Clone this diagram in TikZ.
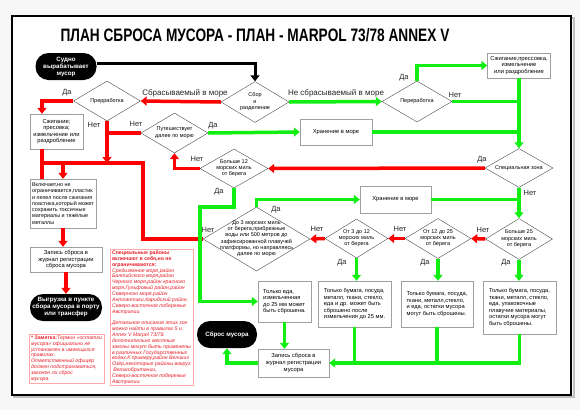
\documentclass[tikz,border=0pt]{standalone}
\usepackage{fontspec}
\setmainfont{Liberation Sans}
\usetikzlibrary{shapes.geometric, arrows.meta, positioning}

\definecolor{redline}{HTML}{FF0000}
\definecolor{greenline}{HTML}{11EE11}
\definecolor{notered}{HTML}{E8202A}

% text of a diamond, kept out of the shape size
\newcommand{\dtext}[1]{\smash{\makebox[0pt]{\raisebox{-0.2em}{\begin{tabular}{@{}c@{}}#1\end{tabular}}}}}

\begin{document}
\begin{tikzpicture}[x=1pt, y=-1pt,
    box/.style={rectangle, draw=gray!75, fill=white, inner sep=1pt, align=center,
                font=\fontsize{5.8}{6.6}\selectfont},
    dia/.style={diamond, draw=gray!60!black, fill=white, inner sep=0pt,
                font=\fontsize{5.5}{6.3}\selectfont},
    pill/.style={rectangle, rounded corners=13pt, fill=black, text=white, align=center,
                inner sep=1pt, font=\fontsize{6.2}{7}\selectfont\bfseries},
    note/.style={rectangle, draw=red!35, fill=white, inner xsep=2pt, inner ysep=1pt,
                align=left, text=notered, font=\fontsize{5.2}{5.85}\selectfont\itshape},
    lbl/.style={inner sep=0pt, text=black!85, font=\fontsize{7.5}{8}\selectfont},
    bkarr/.style={draw=black, line width=3pt, -{Triangle[length=6pt, width=9pt]}},
    rarr/.style={draw=redline, line width=3.5pt, -{Triangle[length=6pt, width=9pt]}},
    rln/.style={draw=redline, line width=3.5pt},
    garr/.style={draw=greenline, line width=3.5pt, -{Triangle[length=6pt, width=9pt]}},
    gln/.style={draw=greenline, line width=3.5pt}
]
    \useasboundingbox (0,0) rectangle (580,410);
    \fill[gray!6] (0,0) rectangle (580,410);
    \draw[gray!50, line width=2pt] (14,18) rectangle (573.5,397);
    \draw[line width=2pt, fill=white] (11.5,15.5) rectangle (571,394.5);

    \node[anchor=base] (title) at (255,41)
        {\scalebox{0.76}[1]{\fontsize{18}{18}\selectfont\bfseries ПЛАН СБРОСА МУСОРА - ПЛАН - MARPOL 73/78 ANNEX V}};

    % top
    \node[pill, minimum width=61, minimum height=27] (ship) at (66,66.5) {Судно\\вырабатывает\\мусор};
    \node[dia, minimum width=68, minimum height=41] (sort) at (255,102) {\dtext{Сбор\\и\\разделение}};
    \node[dia, minimum width=67, minimum height=40] (procL) at (107,101) {\dtext{Прерработка}};
    \node[dia, minimum width=70, minimum height=41] (procR) at (417,101.5) {\dtext{Переработка}};
    \node[box, minimum width=53, minimum height=35] (burnL) at (56.5,131.5) {Сжигание;\\пресовка;\\измельчение или\\раздробление};
    \node[box, minimum width=63, minimum height=25] (burnR) at (519,65.5) {Сжигание,прессовка,\\измельчение\\или раздробление};
    \node[dia, minimum width=67, minimum height=40] (travel) at (174.5,133) {\dtext{Путешествует\\далее по морю}};
    \node[box, minimum width=72, minimum height=26] (storeA) at (336,132) {Хранение в море};

    % middle
    \node[dia, minimum width=68, minimum height=39] (special) at (519,168) {\dtext{Специальная зона}};
    \node[dia, minimum width=68, minimum height=39] (over12) at (234,168.5) {\dtext{Больше 12\\морских миль\\от берега}};
    \node[box, minimum width=71, minimum height=27] (storeB) at (395.5,199.5) {Хранение в море};
    \node[dia, minimum width=107, minimum height=64] (within3) at (256.5,239)
        {\dtext{До 3 морских миль\\от берега,прибрежные\\воды или  500 метров  до\\зафиксированной плавучей\\платформы, но направляясь\\далее по морю}};
    \node[dia, minimum width=63, minimum height=39] (from3) at (356.5,238.5) {\dtext{От  3 до 12\\морских миль\\от берега}};
    \node[dia, minimum width=66, minimum height=40] (from12) at (438,238.5) {\dtext{От 12 до 25\\морских миль\\от берега}};
    \node[dia, minimum width=67, minimum height=41] (over25) at (519,239) {\dtext{Больше 25\\морских миль\\от берега}};

    % bottom
    \node[box, align=left, font=\fontsize{5.7}{6.5}\selectfont, minimum width=53, minimum height=41] (onlyFood) at (284.5,301.5)
        {Только еда,\\измельченная\\до 25 мм может\\быть сброшена.};
    \node[box, align=left, font=\fontsize{5.7}{6.5}\selectfont, minimum width=73, minimum height=46] (waste312) at (354.5,304)
        {Только бумага, посуда,\\металл, ткани, стекло,\\еда и др. может быть\\сброшено после\\измельчения до 25 мм.};
    \node[box, align=left, font=\fontsize{5.7}{6.5}\selectfont, minimum width=72, minimum height=46] (waste1225) at (437,304)
        {Только бумага, посуда,\\ткани, металл,стекло,\\и еда, остатки мусора\\могут быть сброшены.};
    \node[box, align=left, font=\fontsize{5.7}{6.5}\selectfont, minimum width=73, minimum height=53] (waste25) at (519.5,307.5)
        {Только бумага, посуда,\\ткани, металл, стекло,\\еда, упаковочные\\плавучие материалы,\\остатки мусора могут\\быть сброшены.};
    \node[box, minimum width=71, minimum height=28] (logG) at (293.5,363) {Запись сброса в\\журнал регистрации\\мусора};
    \node[pill, minimum width=60, minimum height=27] (dump) at (227,334.5) {Сброс мусора};

    % left column
    \node[box, align=left, font=\fontsize{5.4}{6.3}\selectfont, minimum width=66, minimum height=49] (plastic) at (63,203.5)
        {Включает,но не\\ограничивается,пластик\\и пепел после сжигания\\поастика,который может\\сохранить токсичные\\материалы и тяжёлые\\металлы};
    \node[box, minimum width=72, minimum height=25] (logR) at (66,259.5) {Запись сброса в\\журнал регистрации\\сброса мусора};
    \node[pill, minimum width=72, minimum height=27] (port) at (66,307.5) {Выгрузка в пункте\\сбора мусора в порту\\или трансфер};
    \node[note, minimum width=75, minimum height=49] (noteA) at (66.5,358.5)
        {{\bfseries\upshape * Заметка:}Термин «остатки\\мусора» официально не\\установлен в имеющихся\\правилах.\\Ответственный офицер\\должен подстраховаться,\\законен ли сброс\\мусора.};
    \node[note, minimum width=81, minimum height=131] (noteB) at (151.5,317.5)
        {{\bfseries\upshape Специальные районы}\\{\bfseries\upshape включают в себя,но не}\\{\bfseries\upshape ограничиваются:}\\
         Средиземное море,район\\Балтийского моря,район\\Черного моря,район красного\\моря,Гульфовый район,район\\
         Северного моря,район\\Антлантики,Карибский район,\\Северо-восточное побережье\\Австралии.\\[5.85pt]
         Детальное описание этих зон\\можно найти в правилах 5 и\\Annex V Marpol 73/78.\\дополнительно  местные\\
         законы могут быть применены\\в различных Государственных\\водах.К примеру,район Великих\\
         Озёр,некоторые районы вокруг\\\ Великобритании,\\Северо-восточное побережье\\Австралии.};

    \coordinate (jL) at (42,163);
    \coordinate (jR) at (143,163);
    \coordinate (gA) at (200,207);

    % black
    \draw[bkarr] ([yshift=3pt]ship.east) -| (sort.north);

    % red
    \draw[rarr] (sort.west) -- (procL.east);
    \draw[rarr] (procL.west) -| (burnL.north -| jL);
    \draw[rln] (burnL.south -| jL) -- (plastic.north -| jL);
    \draw[rln] (within3.west) -| (jR) -- (jL);
    \draw[rarr] (jR -| plastic.north) -- (plastic.north);
    \draw[rarr] (procL.south) -- (procL.south |- jR);
    \draw[rln] (travel.west) -- (travel.west -| procL.south);
    \draw[rarr] (over12.west) -| (travel.south);
    \draw[rarr] (special.west) -- (over12.east);
    \draw[rarr] (over25.west) -- (from12.east);
    \draw[rarr] (from12.west) -- (from3.east);
    \draw[rarr] (from3.west) -- (within3.east);
    \draw[rarr] (plastic.south) -- (plastic.south |- logR.north);
    \draw[rarr] (logR.south) -- (port.north);

    % green
    \draw[garr] (sort.east) -- (procR.west);
    \draw[garr] (procR.north) |- (burnR.west);
    \draw[garr] (travel.east) -- (storeA.west);
    \draw[garr] (burnR.south) -- (special.north);
    \draw[gln] (procR.east) -- (procR.east -| special.north);
    \draw[gln] (storeA.east) -- (storeA.east -| special.north);
    \draw[garr] (special.south) -- (over25.north);
    \draw[gln] (storeB.east) -- (storeB.east -| special.north);
    \draw[garr] (within3.north) |- (storeB.west);
    \draw[garr] (over12.south) |- (gA) |- (onlyFood.west);
    \draw[garr] (from3.south) -- (from3.south |- waste312.north);
    \draw[garr] (from12.south) -- (from12.south |- waste1225.north);
    \draw[garr] (over25.south) -- (over25.south |- waste25.north);
    \draw[garr] (onlyFood.south) -- (onlyFood.south |- logG.north);
    \draw[garr] (waste25.south) |- (logG.east);
    \draw[gln] (waste1225.south) -- (waste1225.south |- logG.east);
    \draw[gln] (waste312.south) -- (waste312.south |- logG.east);
    \draw[garr] (logG.west) -| (dump.south);

    % labels
    \node[lbl, font=\fontsize{8}{9}\selectfont] (drop) at (185,93.5) {Сбрасываемый в море};
    \node[lbl, font=\fontsize{8}{9}\selectfont] (noDrop) at (336,93) {Не сбрасываемый в море};
    \node[lbl] (yesProcL) at (67,93) {Да};
    \node[lbl] (noProcL) at (94,125) {Нет};
    \node[lbl] (noTravel) at (136,124) {Нет};
    \node[lbl] (yesTravel) at (213,126) {Да};
    \node[lbl] (yesProcR) at (404,78) {Да};
    \node[lbl] (noProcR) at (455,95) {Нет};
    \node[lbl] (yesSpecial) at (482,160) {Да};
    \node[lbl] (noSpecial) at (530,193) {Нет};
    \node[lbl] (noOver12) at (197,159) {Нет};
    \node[lbl] (yesOver12) at (219,192) {Да};
    \node[lbl] (yesWithin3) at (276,210) {Да};
    \node[lbl] (noWithin3) at (208,230) {Нет};
    \node[lbl] (noFrom3) at (317,229) {Нет};
    \node[lbl] (noFrom12) at (400,229) {Нет};
    \node[lbl] (noOver25) at (483,230) {Нет};
    \node[lbl] (yesFrom3) at (342,263) {Да};
    \node[lbl] (yesFrom12) at (425,263) {Да};
    \node[lbl] (yesOver25) at (506,263) {Да};
\end{tikzpicture}
\end{document}
